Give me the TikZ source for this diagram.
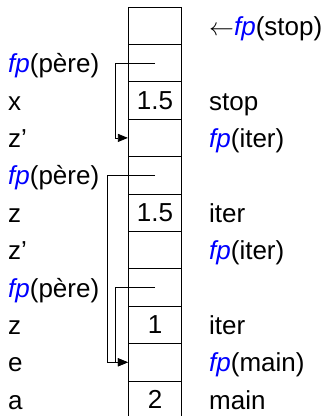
\documentclass[tikz,border=0pt]{standalone}
\usepackage{fontspec}
\setmainfont{Liberation Sans}
\usetikzlibrary{arrows.meta}
\newcommand\fpx{\textcolor{blue}{\textit{fp}}}
\tikzset{
  cell/.style={draw, line width=0.8pt, minimum width=53.4pt, minimum height=37.4pt, inner sep=0pt, font=\fontsize{26}{30}\selectfont},
  lab/.style={anchor=base west, inner sep=0pt, font=\fontsize{26}{30}\selectfont},
  link/.style={line width=0.8pt, -{Triangle[length=10pt,width=8pt]}},
}
\begin{document}
\begin{tikzpicture}[x=1pt,y=-1pt]
\useasboundingbox (0,0) rectangle (327,416);
% cells
\foreach \i/\t in {0/,1/,2/1.5,3/,4/,5/1.5,6/,7/,8/1,9/,10/2}{
  \node[cell] (c\i) at (155,{7+37.4*\i+18.7}) {\t};
}
% left labels
\node[lab] (l1) at (8,{25.7+37.4*1+9.5}) {\fpx(père)};
\node[lab] (l2) at (8,{25.7+37.4*2+9.5}) {x};
\node[lab] (l3) at (8,{25.7+37.4*3+9.5}) {z’};
\node[lab] (l4) at (8,{25.7+37.4*4+9.5}) {\fpx(père)};
\node[lab] (l5) at (8,{25.7+37.4*5+9.5}) {z};
\node[lab] (l6) at (8,{25.7+37.4*6+9.5}) {z’};
\node[lab] (l7) at (8,{25.7+37.4*7+9.5}) {\fpx(père)};
\node[lab] (l8) at (8,{25.7+37.4*8+9.5}) {z};
\node[lab] (l9) at (8,{25.7+37.4*9+9.5}) {e};
\node[lab] (l10) at (8,{25.7+37.4*10+9.5}) {a};
% right labels
\node[lab] (r0) at (209,{25.7+9.5}) {$\leftarrow$\fpx(stop)};
\node[lab] (r2) at (209,{25.7+37.4*2+9.5}) {stop};
\node[lab] (r3) at (209,{25.7+37.4*3+9.5}) {\fpx(iter)};
\node[lab] (r5) at (209,{25.7+37.4*5+9.5}) {iter};
\node[lab] (r6) at (209,{25.7+37.4*6+9.5}) {\fpx(iter)};
\node[lab] (r8) at (209,{25.7+37.4*8+9.5}) {iter};
\node[lab] (r9) at (209,{25.7+37.4*9+9.5}) {\fpx(main)};
\node[lab] (r10) at (209,{25.7+37.4*10+9.5}) {main};
% links
\draw[link] (c1.center) -- ++(-40,0) |- (c3.west);
\draw[link] (c4.center) -- ++(-48,0) |- (c9.west);
\draw[link] (c7.center) -- ++(-40,0) |- (c9.west);
\end{tikzpicture}
\end{document}
